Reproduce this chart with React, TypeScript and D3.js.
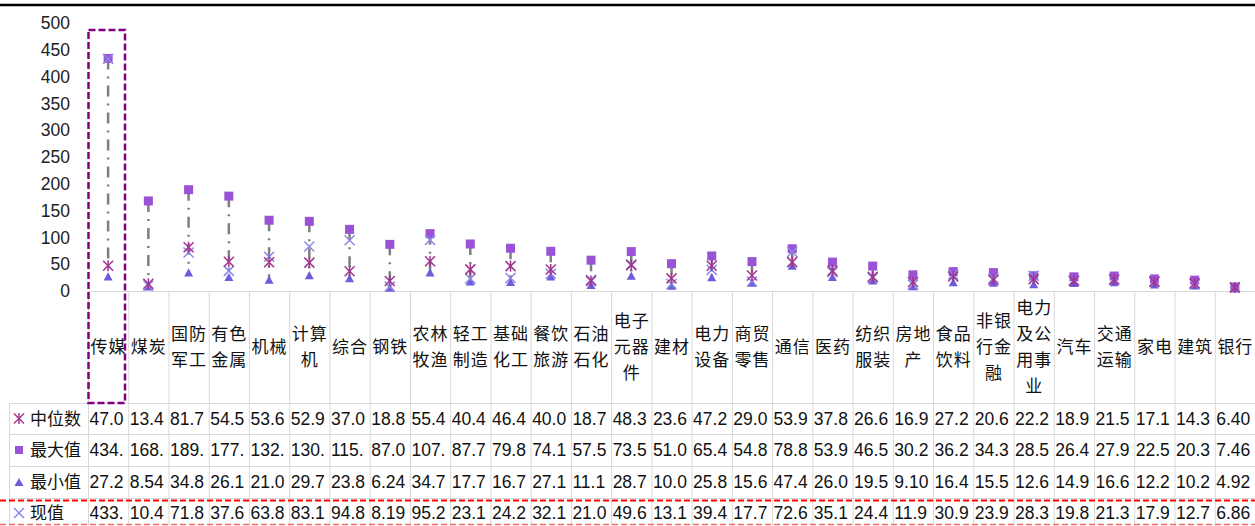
import React from 'react';
import * as d3 from 'd3';

const categories = ['传媒','煤炭','国防军工','有色金属','机械','计算机','综合','钢铁','农林牧渔','轻工制造','基础化工','餐饮旅游','石油石化','电子元器件','建材','电力设备','商贸零售','通信','医药','纺织服装','房地产','食品饮料','非银行金融','电力及公用事业','汽车','交通运输','家电','建筑','银行'];
const medianVals = [47.0,13.4,81.7,54.5,53.6,52.9,37.0,18.8,55.4,40.4,46.4,40.0,18.7,48.3,23.6,47.2,29.0,53.9,37.8,26.6,16.9,27.2,20.6,22.2,18.9,21.5,17.1,14.3,6.40];
const maxVals = [434.0,168.0,189.0,177.0,132.0,130.0,115.0,87.0,107.0,87.7,79.8,74.1,57.5,73.5,51.0,65.4,54.8,78.8,53.9,46.5,30.2,36.2,34.3,28.5,26.4,27.9,22.5,20.3,7.46];
const minVals = [27.2,8.54,34.8,26.1,21.0,29.7,23.8,6.24,34.7,17.7,16.7,27.1,11.1,28.7,10.0,25.8,15.6,47.4,26.0,19.5,9.10,16.4,15.5,12.6,14.9,16.6,12.2,10.2,4.92];
const currentVals = [433.0,10.4,71.8,37.6,63.8,83.1,94.8,8.19,95.2,23.1,24.2,32.1,21.0,49.6,13.1,39.4,17.7,72.6,35.1,24.4,11.9,30.9,23.9,28.3,19.8,21.3,17.9,12.7,6.86];
const rowLabels = ['中位数','最大值','最小值','现值'];

const W = 1255, H = 526;
const NUM_FONT = '"Liberation Sans", Arial, sans-serif';
const CJK_FONT = '"Noto Sans CJK SC", "Noto Sans", sans-serif';

const C_MED = '#A0348F';
const C_MAX = '#9A52D6';
const C_MIN = '#6E5CDB';
const C_CUR = '#8A8AE6';
const GRID = '#d9d9d9';

function fmt(v: number): string {
  if (v >= 100) return `${Math.floor(v)}.`;
  return d3.format('.3r')(v);
}

function Star({ cx, cy, r = 5 }: { cx: number; cy: number; r?: number }) {
  return (
    <g stroke={C_MED} strokeWidth={1.5} fill="none">
      <line x1={cx - r} y1={cy - r} x2={cx + r} y2={cy + r} />
      <line x1={cx - r} y1={cy + r} x2={cx + r} y2={cy - r} />
      <line x1={cx} y1={cy - r - 0.5} x2={cx} y2={cy + r + 0.5} />
    </g>
  );
}
function Cross({ cx, cy, r = 5 }: { cx: number; cy: number; r?: number }) {
  return (
    <g stroke={C_CUR} strokeWidth={1.5} fill="none">
      <line x1={cx - r} y1={cy - r} x2={cx + r} y2={cy + r} />
      <line x1={cx - r} y1={cy + r} x2={cx + r} y2={cy - r} />
    </g>
  );
}
function Square({ cx, cy, s = 9 }: { cx: number; cy: number; s?: number }) {
  return <rect x={cx - s / 2} y={cy - s / 2} width={s} height={s} fill={C_MAX} />;
}
function Tri({ cx, cy, s = 9 }: { cx: number; cy: number; s?: number }) {
  const h = s * 0.9;
  return <path d={`M${cx},${cy - h / 2}L${cx + s / 2},${cy + h / 2}L${cx - s / 2},${cy + h / 2}Z`} fill={C_MIN} />;
}

function chunk(s: string, n: number): string[] {
  const arr = Array.from(s);
  const out: string[] = [];
  for (let i = 0; i < arr.length; i += n) out.push(arr.slice(i, i + n).join(''));
  return out;
}

export default function App() {
  const x = d3.scaleBand<string>().domain(categories).range([88, 1255]).padding(0);
  const y = d3.scaleLinear().domain([0, 500]).range([291, 23]);
  const bw = x.bandwidth();
  const cx = (c: string) => (x(c) as number) + bw / 2;
  const ticks = y.ticks(10);

  const headerTop = 291, headerBottom = 403;
  const rowYs = [403, 434, 466, 498, 530];
  const series = [medianVals, maxVals, minVals, currentVals];
  const colEdges = categories.map((c) => x(c) as number).concat([1255]);

  return (
    <svg width={W} height={H} style={{ position: 'absolute', left: 0, top: 0, background: '#fff' }}>
      <rect x={0} y={0} width={W} height={H} fill="#fff" />
      {/* top black rule */}
      <line x1={0} x2={W} y1={5} y2={5} stroke="#000" strokeWidth={2.5} />

      {/* y axis labels */}
      {ticks.map((t) => (
        <text key={t} x={70} y={y(t)} dy="0.35em" textAnchor="end" fontFamily={NUM_FONT} fontSize={17.5} fill="#222">
          {t}
        </text>
      ))}

      {/* table grid */}
      <line x1={88} x2={W} y1={headerTop + 0.5} y2={headerTop + 0.5} stroke={GRID} strokeWidth={1} />
      {rowYs.slice(0, 4).map((ry) => (
        <line key={ry} x1={9} x2={W} y1={ry + 0.5} y2={ry + 0.5} stroke={GRID} strokeWidth={1} />
      ))}
      <line x1={9.5} x2={9.5} y1={headerBottom} y2={H} stroke={GRID} strokeWidth={1} />
      {colEdges.map((ex, i) => (
        <line key={i} x1={ex + 0.5} x2={ex + 0.5} y1={headerTop} y2={H} stroke={GRID} strokeWidth={1} />
      ))}

      {/* category labels */}
      {categories.map((c) => {
        const lines = chunk(c, 2);
        const lh = 26;
        const y0 = 347 - ((lines.length - 1) * lh) / 2;
        return (
          <text key={c} fontFamily={CJK_FONT} fontSize={17} fill="#111" textAnchor="middle" letterSpacing={1}>
            {lines.map((l, i) => (
              <tspan key={i} x={cx(c) + 0.5} y={y0 + i * lh} dy="0.36em">
                {l}
              </tspan>
            ))}
          </text>
        );
      })}

      {/* table rows */}
      {rowLabels.map((lab, ri) => {
        const mid = (rowYs[ri] + Math.min(rowYs[ri + 1], 528)) / 2;
        const iy = ri === 3 ? 513 : mid;
        return (
          <g key={lab}>
            {ri === 0 && <Star cx={19} cy={iy} r={5} />}
            {ri === 1 && <Square cx={19} cy={iy} s={8} />}
            {ri === 2 && <Tri cx={19} cy={iy} s={9} />}
            {ri === 3 && <Cross cx={19} cy={iy} r={5} />}
            <text x={30} y={iy} dy="0.36em" fontFamily={CJK_FONT} fontSize={17} fill="#111">
              {lab}
            </text>
            {categories.map((c, ci) => (
              <text key={c} x={(x(c) as number) + 1.5} y={iy} dy="0.36em" fontFamily={NUM_FONT} fontSize={17.5} fill="#111">
                {fmt(series[ri][ci])}
              </text>
            ))}
          </g>
        );
      })}

      {/* high-low lines */}
      {categories.map((c, i) => (
        <line key={c} x1={cx(c)} x2={cx(c)} y1={y(maxVals[i])} y2={y(minVals[i])} stroke="#7f7f7f" strokeWidth={2.5} strokeDasharray="11,7,2,7" />
      ))}

      {/* markers */}
      {categories.map((c, i) => (
        <g key={c}>
          <Tri cx={cx(c)} cy={y(minVals[i])} />
          <Square cx={cx(c)} cy={y(maxVals[i])} />
          <Cross cx={cx(c)} cy={y(currentVals[i])} />
          <Star cx={cx(c)} cy={y(medianVals[i])} />
        </g>
      ))}

      {/* highlight box around first category */}
      <rect x={88.5} y={30} width={36.5} height={373} fill="none" stroke="#800080" strokeWidth={2.5} strokeDasharray="7,3" />

      {/* red dashed box around current row */}
      <line x1={0} x2={W} y1={500.5} y2={500.5} stroke="#ff0000" strokeWidth={2} strokeDasharray="6,3" />
      <line x1={0} x2={W} y1={524.5} y2={524.5} stroke="#ff6666" strokeWidth={1.5} strokeDasharray="6,3" />
    </svg>
  );
}
